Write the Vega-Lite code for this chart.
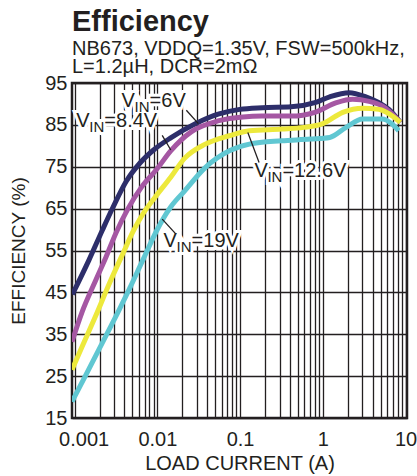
{
  "$schema": "https://vega.github.io/schema/vega-lite/v6.json",
  "width": 335,
  "height": 335,
  "autosize": {"type": "none"},
  "padding": {"left": 72, "top": 83, "right": 10, "bottom": 58},
  "background": "white",
  "title": {
    "text": "Efficiency",
    "subtitle": ["NB673, VDDQ=1.35V, FSW=500kHz,", "L=1.2µH, DCR=2mΩ"],
    "anchor": "start",
    "frame": "group",
    "font": "Liberation Sans",
    "fontSize": 29,
    "fontWeight": "bold",
    "color": "#231f20",
    "subtitleFont": "Liberation Sans",
    "subtitleFontSize": 20,
    "subtitleColor": "#231f20",
    "subtitleLineHeight": 18,
    "subtitlePadding": 2,
    "offset": -4
  },
  "config": {
    "view": {"stroke": "#231f20", "strokeWidth": 2.5},
    "axis": {
      "domain": false,
      "ticks": false,
      "grid": true,
      "gridColor": "#231f20",
      "gridWidth": 1.3,
      "gridOpacity": 1,
      "labelFont": "Liberation Sans",
      "labelFontSize": 20,
      "labelColor": "#231f20",
      "titleFont": "Liberation Sans",
      "titleFontSize": 19,
      "titleFontWeight": "normal",
      "titleColor": "#231f20"
    }
  },
  "datasets": {
    "curves": [
      {"series": "6V", "current": 0.00094, "efficiency": 44.5},
      {"series": "6V", "current": 0.00149, "efficiency": 52.7},
      {"series": "6V", "current": 0.00217, "efficiency": 59.9},
      {"series": "6V", "current": 0.00289, "efficiency": 65.2},
      {"series": "6V", "current": 0.00423, "efficiency": 71.6},
      {"series": "6V", "current": 0.00617, "efficiency": 75.9},
      {"series": "6V", "current": 0.009, "efficiency": 79.0},
      {"series": "6V", "current": 0.0145, "efficiency": 81.9},
      {"series": "6V", "current": 0.0284, "efficiency": 85.2},
      {"series": "6V", "current": 0.0556, "efficiency": 87.6},
      {"series": "6V", "current": 0.099, "efficiency": 88.7},
      {"series": "6V", "current": 0.185, "efficiency": 89.1},
      {"series": "6V", "current": 0.413, "efficiency": 89.3},
      {"series": "6V", "current": 0.8, "efficiency": 90.3},
      {"series": "6V", "current": 1.21, "efficiency": 91.7},
      {"series": "6V", "current": 2.09, "efficiency": 92.7},
      {"series": "6V", "current": 3.31, "efficiency": 91.7},
      {"series": "6V", "current": 4.77, "efficiency": 90.3},
      {"series": "6V", "current": 6.28, "efficiency": 88.7},
      {"series": "6V", "current": 8.65, "efficiency": 85.6},
      {"series": "8.4V", "current": 0.00093, "efficiency": 33.2},
      {"series": "8.4V", "current": 0.00123, "efficiency": 40.3},
      {"series": "8.4V", "current": 0.0018, "efficiency": 47.9},
      {"series": "8.4V", "current": 0.00239, "efficiency": 53.4},
      {"series": "8.4V", "current": 0.00318, "efficiency": 59.3},
      {"series": "8.4V", "current": 0.00442, "efficiency": 65.0},
      {"series": "8.4V", "current": 0.00647, "efficiency": 70.2},
      {"series": "8.4V", "current": 0.00983, "efficiency": 74.4},
      {"series": "8.4V", "current": 0.0145, "efficiency": 78.8},
      {"series": "8.4V", "current": 0.0259, "efficiency": 83.4},
      {"series": "8.4V", "current": 0.0556, "efficiency": 86.0},
      {"series": "8.4V", "current": 0.108, "efficiency": 86.9},
      {"series": "8.4V", "current": 0.185, "efficiency": 87.1},
      {"series": "8.4V", "current": 0.413, "efficiency": 87.1},
      {"series": "8.4V", "current": 0.8, "efficiency": 88.0},
      {"series": "8.4V", "current": 1.46, "efficiency": 90.3},
      {"series": "8.4V", "current": 2.29, "efficiency": 91.1},
      {"series": "8.4V", "current": 3.63, "efficiency": 90.6},
      {"series": "8.4V", "current": 5.22, "efficiency": 89.5},
      {"series": "8.4V", "current": 8.65, "efficiency": 85.6},
      {"series": "12.6V", "current": 0.00093, "efficiency": 26.5},
      {"series": "12.6V", "current": 0.00123, "efficiency": 32.0},
      {"series": "12.6V", "current": 0.0018, "efficiency": 39.4},
      {"series": "12.6V", "current": 0.00263, "efficiency": 47.1},
      {"series": "12.6V", "current": 0.00384, "efficiency": 54.3},
      {"series": "12.6V", "current": 0.00511, "efficiency": 59.6},
      {"series": "12.6V", "current": 0.00677, "efficiency": 63.9},
      {"series": "12.6V", "current": 0.00944, "efficiency": 67.8},
      {"series": "12.6V", "current": 0.0145, "efficiency": 72.5},
      {"series": "12.6V", "current": 0.0213, "efficiency": 77.0},
      {"series": "12.6V", "current": 0.0379, "efficiency": 80.4},
      {"series": "12.6V", "current": 0.0742, "efficiency": 82.4},
      {"series": "12.6V", "current": 0.1297, "efficiency": 83.6},
      {"series": "12.6V", "current": 0.316, "efficiency": 84.0},
      {"series": "12.6V", "current": 0.589, "efficiency": 84.4},
      {"series": "12.6V", "current": 1.0, "efficiency": 85.3},
      {"series": "12.6V", "current": 1.74, "efficiency": 88.0},
      {"series": "12.6V", "current": 3.02, "efficiency": 89.0},
      {"series": "12.6V", "current": 4.77, "efficiency": 88.7},
      {"series": "12.6V", "current": 8.65, "efficiency": 85.6},
      {"series": "19V", "current": 0.00093, "efficiency": 18.9},
      {"series": "19V", "current": 0.00136, "efficiency": 25.2},
      {"series": "19V", "current": 0.00217, "efficiency": 33.0},
      {"series": "19V", "current": 0.00349, "efficiency": 41.0},
      {"series": "19V", "current": 0.00464, "efficiency": 46.0},
      {"series": "19V", "current": 0.00678, "efficiency": 53.0},
      {"series": "19V", "current": 0.0099, "efficiency": 59.9},
      {"series": "19V", "current": 0.012, "efficiency": 62.9},
      {"series": "19V", "current": 0.0145, "efficiency": 65.4},
      {"series": "19V", "current": 0.0213, "efficiency": 69.2},
      {"series": "19V", "current": 0.0379, "efficiency": 74.8},
      {"series": "19V", "current": 0.0742, "efficiency": 78.8},
      {"series": "19V", "current": 0.1297, "efficiency": 80.4},
      {"series": "19V", "current": 0.316, "efficiency": 81.2},
      {"series": "19V", "current": 0.707, "efficiency": 81.6},
      {"series": "19V", "current": 1.21, "efficiency": 82.0},
      {"series": "19V", "current": 1.91, "efficiency": 84.4},
      {"series": "19V", "current": 3.02, "efficiency": 86.4},
      {"series": "19V", "current": 5.22, "efficiency": 86.4},
      {"series": "19V", "current": 6.87, "efficiency": 85.2},
      {"series": "19V", "current": 8.26, "efficiency": 83.6}
    ],
    "labels": [
      {"series": "6V", "current": 0.0037, "efficiency": 89.2, "rest": "=6V"},
      {"series": "8.4V", "current": 0.00105, "efficiency": 84.5, "rest": "=8.4V"},
      {"series": "12.6V", "current": 0.149, "efficiency": 72.5, "rest": "=12.6V"},
      {"series": "19V", "current": 0.0119, "efficiency": 55.8, "rest": "=19V"}
    ],
    "leaders": [
      {"series": "6V", "current": 0.0224, "efficiency": 88.5, "current2": 0.0313, "efficiency2": 85.3},
      {"series": "8.4V", "current": 0.01145, "efficiency": 82.5, "current2": 0.01454, "efficiency2": 79.0},
      {"series": "12.6V", "current": 0.1239, "efficiency": 83.2, "current2": 0.1695, "efficiency2": 76.0},
      {"series": "19V", "current": 0.01145, "efficiency": 62.5, "current2": 0.0168, "efficiency2": 58.9}
    ]
  },
  "layer": [
    {
      "data": {"name": "labels"},
      "mark": {"type": "text", "text": "V", "align": "left", "baseline": "alphabetic", "font": "Liberation Sans", "fontSize": 20, "fill": "white", "stroke": "white", "strokeWidth": 6},
      "encoding": {
        "x": {
          "field": "current", "type": "quantitative",
          "scale": {"type": "log", "domain": [0.00093, 10.4], "nice": false},
          "axis": {
            "values": [0.001, 0.002, 0.003, 0.004, 0.005, 0.006, 0.007, 0.008, 0.009, 0.01, 0.02, 0.03, 0.04, 0.05, 0.06, 0.07, 0.08, 0.09, 0.1, 0.2, 0.3, 0.4, 0.5, 0.6, 0.7, 0.8, 0.9, 1, 2, 3, 4, 5, 6, 7, 8, 9, 10],
            "labelExpr": "datum.value == 0.001 ? '0.001' : datum.value == 0.01 ? '0.01' : datum.value == 0.1 ? '0.1' : datum.value == 1 ? '1' : datum.value == 10 ? '10' : ''",
            "labelOffset": {"condition": {"test": "datum.value == 0.001", "value": 9}, "value": 0},
            "labelOverlap": false,
            "labelFlush": false,
            "labelBound": false,
            "labelPadding": 11,
            "title": "LOAD CURRENT (A)",
            "titleFontSize": 20,
            "titlePadding": 4
          }
        },
        "y": {
          "field": "efficiency", "type": "quantitative",
          "scale": {"domain": [15, 95], "nice": false, "zero": false},
          "axis": {
            "values": [15, 25, 35, 45, 55, 65, 75, 85, 95],
            "labelPadding": 5,
            "title": "EFFICIENCY (%)",
            "titlePadding": 16
          }
        }
      }
    },
    {
      "data": {"name": "labels"},
      "mark": {"type": "text", "align": "left", "baseline": "alphabetic", "font": "Liberation Sans", "fontSize": 15, "dx": 13, "dy": 5, "fill": "white", "stroke": "white", "strokeWidth": 6, "text": "IN"},
      "encoding": {
        "x": {"field": "current", "type": "quantitative"},
        "y": {"field": "efficiency", "type": "quantitative"}
      }
    },
    {
      "data": {"name": "labels"},
      "mark": {"type": "text", "align": "left", "baseline": "alphabetic", "font": "Liberation Sans", "fontSize": 20, "dx": 28, "fill": "white", "stroke": "white", "strokeWidth": 6},
      "encoding": {
        "x": {"field": "current", "type": "quantitative"},
        "y": {"field": "efficiency", "type": "quantitative"},
        "text": {"field": "rest"}
      }
    },
    {
      "data": {"name": "curves"},
      "mark": {"type": "line", "strokeWidth": 5, "interpolate": "monotone", "clip": true, "strokeJoin": "round"},
      "encoding": {
        "x": {"field": "current", "type": "quantitative"},
        "y": {"field": "efficiency", "type": "quantitative"},
        "color": {
          "field": "series", "type": "nominal",
          "scale": {"domain": ["6V", "8.4V", "12.6V", "19V"], "range": ["#2d2e6a", "#a557a3", "#ede93c", "#60c7d2"]},
          "legend": null
        }
      }
    },
    {
      "data": {"name": "leaders"},
      "mark": {"type": "rule", "color": "#231f20", "strokeWidth": 1.3},
      "encoding": {
        "x": {"field": "current", "type": "quantitative"},
        "y": {"field": "efficiency", "type": "quantitative"},
        "x2": {"field": "current2"},
        "y2": {"field": "efficiency2"}
      }
    },
    {
      "data": {"name": "labels"},
      "mark": {"type": "text", "text": "V", "align": "left", "baseline": "alphabetic", "font": "Liberation Sans", "fontSize": 20, "fill": "#231f20"},
      "encoding": {
        "x": {"field": "current", "type": "quantitative"},
        "y": {"field": "efficiency", "type": "quantitative"}
      }
    },
    {
      "data": {"name": "labels"},
      "mark": {"type": "text", "text": "IN", "align": "left", "baseline": "alphabetic", "font": "Liberation Sans", "fontSize": 15, "dx": 13, "dy": 5, "fill": "#231f20"},
      "encoding": {
        "x": {"field": "current", "type": "quantitative"},
        "y": {"field": "efficiency", "type": "quantitative"}
      }
    },
    {
      "data": {"name": "labels"},
      "mark": {"type": "text", "align": "left", "baseline": "alphabetic", "font": "Liberation Sans", "fontSize": 20, "dx": 28, "fill": "#231f20"},
      "encoding": {
        "x": {"field": "current", "type": "quantitative"},
        "y": {"field": "efficiency", "type": "quantitative"},
        "text": {"field": "rest"}
      }
    }
  ]
}
